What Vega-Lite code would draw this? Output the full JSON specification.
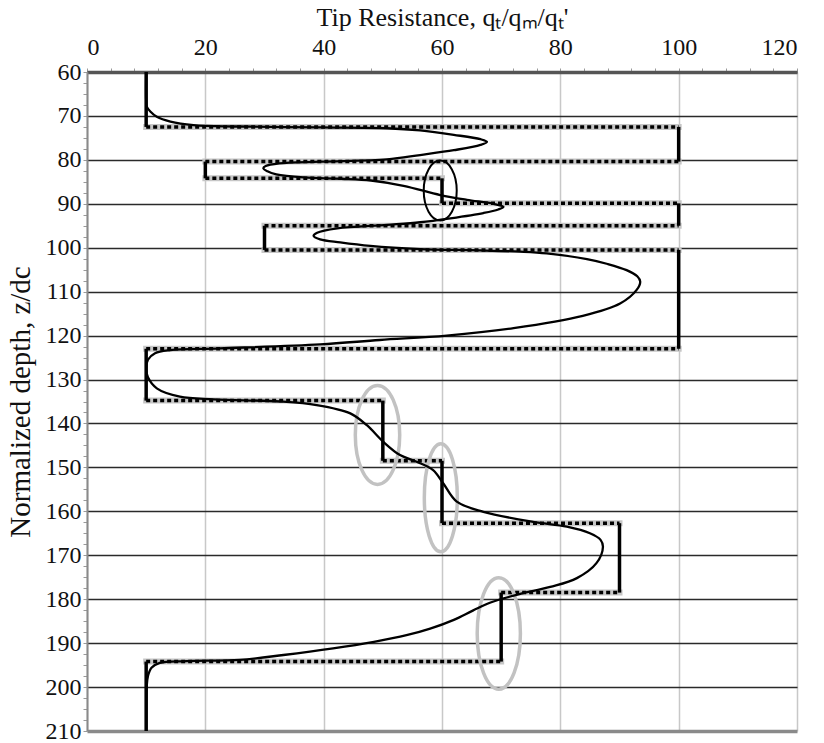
{
  "$schema": "https://vega.github.io/schema/vega-lite/v6.json",
  "width": 710,
  "height": 659,
  "autosize": "none",
  "padding": {"left": 87, "top": 72, "right": 27, "bottom": 12},
  "background": "white",
  "config": {
    "view": {"stroke": null},
    "font": "Liberation Serif",
    "axis": {
      "labelFont": "Liberation Serif",
      "titleFont": "Liberation Serif",
      "labelColor": "#111",
      "titleColor": "#111",
      "titleFontWeight": "normal",
      "labelFontSize": 24,
      "titleFontSize": 26,
      "labelOverlap": false
    }
  },
  "datasets": {
    "cone": [
      {"q": 10, "z": 60}, {"q": 10, "z": 66.4}, {"q": 10.1, "z": 67.9}, {"q": 10.7, "z": 69.0},
      {"q": 11.8, "z": 70.2}, {"q": 14.1, "z": 71.3}, {"q": 18, "z": 72.1}, {"q": 25.4, "z": 72.4},
      {"q": 39.4, "z": 72.6}, {"q": 50.7, "z": 72.8}, {"q": 56.3, "z": 73.3}, {"q": 62, "z": 74.3},
      {"q": 66.5, "z": 75.3}, {"q": 67.6, "z": 75.9}, {"q": 66.5, "z": 76.6}, {"q": 62, "z": 77.8},
      {"q": 56.3, "z": 78.9}, {"q": 50.7, "z": 79.9}, {"q": 39.4, "z": 80.4}, {"q": 32.5, "z": 80.8},
      {"q": 30.2, "z": 81.4}, {"q": 29.8, "z": 81.9}, {"q": 30.5, "z": 82.6}, {"q": 32, "z": 83.3},
      {"q": 36.6, "z": 84.0}, {"q": 43, "z": 84.3}, {"q": 48, "z": 84.7}, {"q": 53.5, "z": 85.9},
      {"q": 59.7, "z": 88.0}, {"q": 64.2, "z": 89.1}, {"q": 68.7, "z": 90.0}, {"q": 70.4, "z": 90.7},
      {"q": 69.5, "z": 91.3}, {"q": 67, "z": 92.1}, {"q": 61.4, "z": 93.3}, {"q": 56.3, "z": 94.2},
      {"q": 50.7, "z": 94.8}, {"q": 42.3, "z": 95.6}, {"q": 38.9, "z": 96.6}, {"q": 38.3, "z": 97.3},
      {"q": 39.4, "z": 98.1}, {"q": 42.8, "z": 98.8}, {"q": 47.9, "z": 99.6}, {"q": 56.3, "z": 100.3},
      {"q": 66.4, "z": 100.6}, {"q": 73.2, "z": 100.9}, {"q": 77.7, "z": 101.3}, {"q": 84.5, "z": 102.6},
      {"q": 88, "z": 103.7}, {"q": 91.2, "z": 105.1}, {"q": 93, "z": 106.5}, {"q": 93.5, "z": 107.7},
      {"q": 92.9, "z": 109.6}, {"q": 90.1, "z": 112.7}, {"q": 83.8, "z": 115.5}, {"q": 72.1, "z": 118.3},
      {"q": 60.8, "z": 120.0}, {"q": 49.5, "z": 121.0}, {"q": 39.4, "z": 122.0}, {"q": 22.5, "z": 122.9},
      {"q": 14.1, "z": 123.3}, {"q": 11.5, "z": 124.0}, {"q": 10.3, "z": 125.5}, {"q": 10, "z": 127.5},
      {"q": 10.3, "z": 129.5}, {"q": 11.8, "z": 132.0}, {"q": 15.7, "z": 133.9}, {"q": 21.4, "z": 134.5},
      {"q": 32.6, "z": 135.0}, {"q": 38.8, "z": 135.8}, {"q": 44.5, "z": 137.7}, {"q": 47.3, "z": 140.4},
      {"q": 50.1, "z": 144.2}, {"q": 52.9, "z": 147.2}, {"q": 55.7, "z": 148.7}, {"q": 58.5, "z": 150.6},
      {"q": 60.2, "z": 153.6}, {"q": 62.5, "z": 157.8}, {"q": 67, "z": 160.1}, {"q": 75.4, "z": 162.4},
      {"q": 81.1, "z": 163.5}, {"q": 85, "z": 165.0}, {"q": 86.8, "z": 166.5}, {"q": 87.2, "z": 168.1},
      {"q": 86.1, "z": 171.8}, {"q": 82.8, "z": 175.2}, {"q": 78.3, "z": 177.2}, {"q": 72.6, "z": 179.0},
      {"q": 68.1, "z": 180.8}, {"q": 65.2, "z": 182.6}, {"q": 62.0, "z": 184.7}, {"q": 58.0, "z": 186.7},
      {"q": 54.0, "z": 188.2}, {"q": 48.5, "z": 189.7}, {"q": 41.6, "z": 191.2}, {"q": 33.2, "z": 192.7},
      {"q": 25.8, "z": 193.8}, {"q": 16.8, "z": 194.1}, {"q": 12.3, "z": 194.5}, {"q": 10.9, "z": 195.6},
      {"q": 10.3, "z": 197.5}, {"q": 10.1, "z": 199.8}, {"q": 10, "z": 210}
    ],
    "flats": [
      {"z": 72.5, "q1": 10, "q2": 100},
      {"z": 80.4, "q1": 20, "q2": 100},
      {"z": 84.2, "q1": 20, "q2": 60},
      {"z": 89.9, "q1": 60, "q2": 100},
      {"z": 95.0, "q1": 30, "q2": 100},
      {"z": 100.5, "q1": 30, "q2": 100},
      {"z": 123.0, "q1": 10, "q2": 100},
      {"z": 134.8, "q1": 10, "q2": 50},
      {"z": 148.5, "q1": 50, "q2": 60},
      {"z": 162.7, "q1": 60, "q2": 90},
      {"z": 178.5, "q1": 70, "q2": 90},
      {"z": 194.2, "q1": 10, "q2": 70}
    ],
    "risers": [
      {"q": 10, "z1": 60, "z2": 72.5},
      {"q": 100, "z1": 72.5, "z2": 80.4},
      {"q": 20, "z1": 80.4, "z2": 84.2},
      {"q": 60, "z1": 84.2, "z2": 89.9},
      {"q": 100, "z1": 89.9, "z2": 95.0},
      {"q": 30, "z1": 95.0, "z2": 100.5},
      {"q": 100, "z1": 100.5, "z2": 123.0},
      {"q": 10, "z1": 123.0, "z2": 134.8},
      {"q": 50, "z1": 134.8, "z2": 148.5},
      {"q": 60, "z1": 148.5, "z2": 162.7},
      {"q": 90, "z1": 162.7, "z2": 178.5},
      {"q": 70, "z1": 178.5, "z2": 194.2},
      {"q": 10, "z1": 194.2, "z2": 210}
    ],
    "greyRings": [
      {"q": 49.1, "z": 142.6, "ring": "g1"},
      {"q": 59.8, "z": 156.9, "ring": "g2"},
      {"q": 69.6, "z": 187.8, "ring": "g3"}
    ],
    "blackRing": [
      {"q": 59.7, "z": 87.0}
    ]
  },
  "layer": [
    {
      "data": {"name": "flats"},
      "mark": {"type": "rule", "stroke": "#c6c6c6", "strokeWidth": 6, "strokeCap": "square"},
      "encoding": {
        "x": {
          "field": "q1", "type": "quantitative",
          "scale": {"domain": [0, 120], "nice": false, "zero": false},
          "axis": {
            "orient": "top",
            "title": "Tip Resistance, qₜ/qₘ/qₜ'",
            "titlePadding": 5,
            "tickCount": 200,
            "format": "d",
            "values": [0, 4, 8, 12, 16, 20, 24, 28, 32, 36, 40, 44, 48, 52, 56, 60, 64, 68, 72, 76, 80, 84, 88, 92, 96, 100, 104, 108, 112, 116, 120],
            "labelExpr": "datum.value % 20 === 0 ? datum.label : ''",
            "labelPadding": 9,
            "tickSize": 4,
            "tickColor": "#9a9a9a",
            "tickWidth": 1,
            "domainColor": "#555",
            "domainWidth": 3.5,
            "grid": true,
            "gridColor": "#c8c8c8",
            "gridWidth": 1.5,
            "gridOpacity": {"condition": {"test": "datum.value % 20 === 0", "value": 1}, "value": 0}
          }
        },
        "x2": {"field": "q2"},
        "y": {
          "field": "z", "type": "quantitative",
          "scale": {"domain": [60, 210], "nice": false, "zero": false, "reverse": true},
          "axis": {
            "title": "Normalized depth, z/dc",
            "titleFontSize": 29,
            "titlePadding": 10,
            "tickCount": 200,
            "format": "d",
            "values": [60, 62.5, 65, 67.5, 70, 72.5, 75, 77.5, 80, 82.5, 85, 87.5, 90, 92.5, 95, 97.5, 100, 102.5, 105, 107.5, 110, 112.5, 115, 117.5, 120, 122.5, 125, 127.5, 130, 132.5, 135, 137.5, 140, 142.5, 145, 147.5, 150, 152.5, 155, 157.5, 160, 162.5, 165, 167.5, 170, 172.5, 175, 177.5, 180, 182.5, 185, 187.5, 190, 192.5, 195, 197.5, 200, 202.5, 205, 207.5, 210],
            "labelExpr": "datum.value % 10 === 0 ? datum.label : ''",
            "labelPadding": 2,
            "tickSize": 4,
            "tickColor": "#9a9a9a",
            "tickWidth": 1,
            "domainColor": "#8a8a8a",
            "domainWidth": 2,
            "grid": true,
            "gridColor": {"condition": {"test": "datum.value === 210", "value": "#8a8a8a"}, "value": "#2a2a2a"},
            "gridWidth": {"condition": {"test": "datum.value === 210", "value": 3.5}, "value": 1.3},
            "gridOpacity": {"condition": {"test": "datum.value % 10 === 0", "value": 1}, "value": 0}
          }
        }
      }
    },
    {
      "data": {"name": "flats"},
      "mark": {"type": "rule", "stroke": "#000", "strokeWidth": 3.5, "strokeDash": [4, 3], "strokeCap": "butt"},
      "encoding": {
        "x": {"field": "q1", "type": "quantitative", "title": "Tip Resistance, qₜ/qₘ/qₜ'"},
        "x2": {"field": "q2"},
        "y": {"field": "z", "type": "quantitative", "title": "Normalized depth, z/dc"}
      }
    },
    {
      "data": {"name": "risers"},
      "mark": {"type": "rule", "stroke": "#000", "strokeWidth": 3.5, "strokeCap": "butt"},
      "encoding": {
        "x": {"field": "q", "type": "quantitative", "title": "Tip Resistance, qₜ/qₘ/qₜ'"},
        "y": {"field": "z1", "type": "quantitative", "title": "Normalized depth, z/dc"},
        "y2": {"field": "z2"}
      }
    },
    {
      "data": {"name": "greyRings"},
      "mark": {"type": "point", "filled": false, "size": 3600, "stroke": "#c2c2c2", "strokeWidth": 3.5, "opacity": 1},
      "encoding": {
        "x": {"field": "q", "type": "quantitative", "title": "Tip Resistance, qₜ/qₘ/qₜ'"},
        "y": {"field": "z", "type": "quantitative", "title": "Normalized depth, z/dc"},
        "shape": {
          "field": "ring", "type": "nominal", "legend": null,
          "scale": {
            "domain": ["g1", "g2", "g3"],
            "range": [
              "M0,-1.65A0.74,1.65,0,1,1,0,1.65A0.74,1.65,0,1,1,0,-1.65Z",
              "M0,-1.8A0.55,1.8,0,1,1,0,1.8A0.55,1.8,0,1,1,0,-1.8Z",
              "M0,-1.86A0.72,1.86,0,1,1,0,1.86A0.72,1.86,0,1,1,0,-1.86Z"
            ]
          }
        }
      }
    },
    {
      "data": {"name": "blackRing"},
      "mark": {
        "type": "point", "filled": false, "size": 3600, "stroke": "#000", "strokeWidth": 2, "opacity": 1,
        "shape": "M0,-1A0.55,1,0,1,1,0,1A0.55,1,0,1,1,0,-1Z"
      },
      "encoding": {
        "x": {"field": "q", "type": "quantitative", "title": "Tip Resistance, qₜ/qₘ/qₜ'"},
        "y": {"field": "z", "type": "quantitative", "title": "Normalized depth, z/dc"}
      }
    },
    {
      "data": {"name": "cone"},
      "mark": {"type": "line", "stroke": "#000", "strokeWidth": 2.3, "interpolate": "catmull-rom"},
      "encoding": {
        "x": {"field": "q", "type": "quantitative", "title": "Tip Resistance, qₜ/qₘ/qₜ'"},
        "y": {"field": "z", "type": "quantitative", "title": "Normalized depth, z/dc"},
        "order": {"field": "z", "type": "quantitative"}
      }
    }
  ]
}
